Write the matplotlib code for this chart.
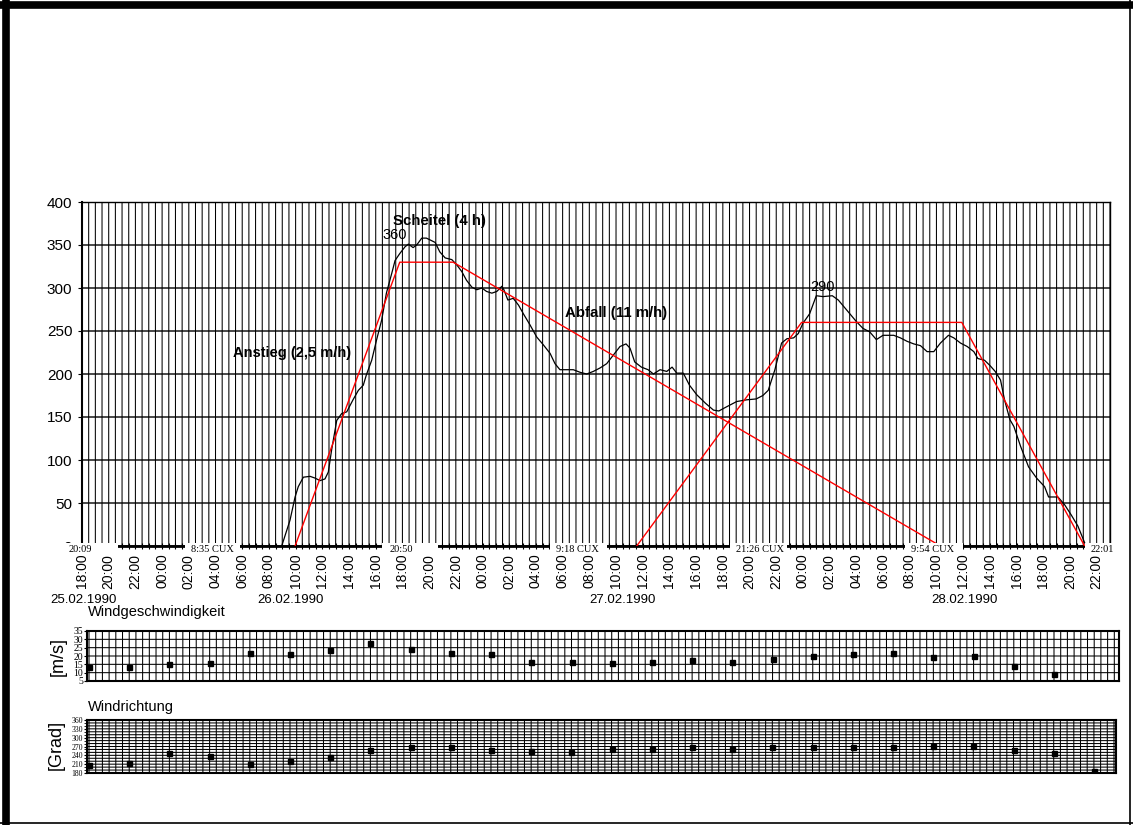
import matplotlib
matplotlib.use("Agg")
import matplotlib.pyplot as plt
from matplotlib.ticker import MultipleLocator, FuncFormatter
from matplotlib.patches import Rectangle
from matplotlib.lines import Line2D

plt.rcParams['font.family'] = ['Liberation Sans', 'DejaVu Sans']

# hours since 25.02.1990 18:00
pegel_h = [14.96, 15.58, 15.96, 16.2, 16.58, 17.08, 17.45, 17.83, 18.2, 18.45, 18.7, 19.08,
           19.45, 19.83, 20.3, 20.7, 21.07, 21.3, 21.7, 22.07, 22.45, 22.8, 23.2, 23.45,
           23.8, 24.2, 24.45, 24.8, 25.07, 25.45, 25.8, 26.2, 26.45, 26.8, 27.2, 27.7,
           28.07, 28.45, 28.8, 29.2, 29.57, 29.95, 30.3, 30.7, 31.07, 31.45, 31.6, 31.9,
           32.3, 32.7, 33.06, 33.56, 34.06, 34.55, 35.06, 35.43, 35.8, 36.3, 36.8, 37.3,
           37.8, 38.3, 38.8, 39.3, 39.8, 40.3, 40.75, 41.05, 41.4, 41.9, 42.4, 42.8,
           43.3, 43.8, 44.2, 44.55, 45.04, 45.5, 46.04, 46.7, 47.3, 47.7, 48.3, 49.04,
           49.8, 50.5, 51.0, 51.4, 51.9, 52.4, 52.8, 53.3, 53.65, 54.0, 54.5, 55.0,
           55.5, 56.2, 56.65, 57.3, 58.0, 58.5, 59.0, 59.5, 60.0, 60.8, 61.3, 61.8,
           62.3, 62.8, 63.3, 63.8, 64.3, 64.9, 65.3, 65.8, 66.3, 66.8, 67.1, 67.6,
           68.0, 68.4, 68.8, 69.1, 69.5, 69.8, 70.3, 70.9, 71.5, 72.1, 72.4, 73.1,
           73.6, 74.1, 74.6, 75.2]
pegel_cm = [0, 30, 57, 69, 80, 81, 79, 76, 78, 86, 112, 146,
            154, 156, 170, 181, 187, 199, 216, 240, 263, 294, 317, 332,
            340, 348, 351, 347, 350, 358, 358, 355, 353, 342, 335, 333,
            327, 319, 309, 301, 298, 300, 296, 294, 296, 302, 298, 286,
            288, 280, 270, 257, 243, 234, 224, 212, 205, 205, 205, 202,
            200, 203, 207, 212, 222, 232, 235, 230, 214, 208, 205, 200,
            205, 203, 208, 201, 201, 187, 176, 166, 158, 157, 162, 168,
            170, 171, 175, 181, 205, 236, 241, 242, 247, 259, 270, 291,
            290, 291, 286, 274, 261, 253, 249, 240, 245, 245, 242, 238,
            235, 233, 226, 226, 236, 245, 242, 236, 232, 226, 218, 216,
            210, 203, 193, 170, 147, 139, 116, 92, 79, 69, 57, 57,
            48, 36, 23, 0]

trend1_h = [15.96, 23.8, 27.8, 64.3]
trend1_cm = [0, 330, 330, 0]
trend2_h = [41.55, 53.9, 65.9, 75.1]
trend2_cm = [0, 260, 260, 0]

tide_text = ["20:09", "8:35 CUX", "20:50", "9:18 CUX", "21:26 CUX", "9:54 CUX", "22:01"]
tide_pos = [-0.1, 9.74, 23.9, 37.1, 50.8, 63.7, 76.4]
tide_box = [(-1.4, 2.7), (7.7, 11.85), (22.5, 26.7), (35.05, 39.3),
            (48.5, 52.8), (61.65, 65.99), (75.1, 78.1)]

dates = ["25.02.1990", "26.02.1990", "27.02.1990", "28.02.1990"]
date_px = [84, 291, 622, 964]

wind_speed_h = [0, 3, 6, 9, 12, 15, 18, 21, 24, 27, 30, 33, 36, 39, 42, 45, 48,
                51, 54, 57, 60, 63, 66, 69, 72]
wind_speed = [13.5, 13.5, 15.1, 15.9, 21.8, 21.0, 23.4, 27.7, 24.3, 21.8, 21.0, 16.6,
              16.6, 15.9, 16.6, 17.6, 16.6, 18.4, 20.2, 21.0, 21.8, 19.2, 20.2, 14.1, 9.3]
wind_dir_h = [0, 3, 6, 9, 12, 15, 18, 21, 24, 27, 30, 33, 36, 39, 42, 45, 48,
              51, 54, 57, 60, 63, 66, 69, 72, 75]
wind_dir = [206, 215, 247, 238, 210, 220, 234, 257, 267, 267, 257, 255, 253,
            262, 262, 267, 262, 267, 267, 267, 267, 271, 271, 257, 247, 187]

W, H = 1133, 825
fig = plt.figure(figsize=(W / 100, H / 100), dpi=100)


def fx(px):
    return px / W


def fy(py):
    return 1 - py / H


# main water level chart
ax = fig.add_axes([fx(82), fy(546), fx(1110) - fx(82), fy(202) - fy(546)])
ax.set_xlim(0, 77)
ax.set_ylim(0, 400)
ax.plot(pegel_h, pegel_cm, color='black', lw=0.9, zorder=3)
ax.plot(trend1_h, trend1_cm, color='red', lw=1.0, zorder=3)
ax.plot(trend2_h, trend2_cm, color='red', lw=1.0, zorder=3)

ax.xaxis.set_major_locator(MultipleLocator(2))
ax.xaxis.set_minor_locator(MultipleLocator(0.5))
ax.xaxis.set_major_formatter(FuncFormatter(lambda h, pos: f"{int(round(18 + h)) % 24:02d}:00"))
ax.yaxis.set_major_locator(MultipleLocator(50))
ax.tick_params(axis='x', which='both', direction='inout', length=5, width=0.8,
               labelsize=10, labelrotation=90, pad=3)
ax.tick_params(axis='y', direction='out', length=3, width=0.8, labelsize=11, pad=4)
ax.grid(which='both', axis='x', color='black', lw=0.75, snap=False)
ax.grid(which='major', axis='y', color='black', lw=1.0, snap=False)
for s in ax.spines.values():
    s.set_linewidth(1.0)
ax.spines['left'].set_linewidth(1.5)
ax.spines['bottom'].set_linewidth(2.0)

# white boxes with tide times over the zero line
for t, xc, (x0, x1) in zip(tide_text, tide_pos, tide_box):
    ax.add_patch(Rectangle((x0, -8.1), x1 - x0, 11.6, facecolor='white', edgecolor='none',
                           zorder=4, clip_on=False))
    ax.text(xc, -3.6, t, family='Liberation Serif', fontsize=7.5, ha='center', va='center',
            zorder=5, clip_on=False)

ax.text(26.8, 378, "Scheitel (4 h)", fontweight='bold', fontsize=10.8, ha='center', va='center')
ax.text(23.4, 361.5, "360", fontsize=10.5, ha='center', va='center')
ax.text(15.7, 224.4, "Anstieg (2,5 m/h)", fontweight='bold', fontsize=10.5, ha='center', va='center')
ax.text(40.0, 271, "Abfall (11 m/h)", fontweight='bold', fontsize=10.8, ha='center', va='center')
ax.text(55.5, 301, "290", fontsize=10.5, ha='center', va='center')

for d, px in zip(dates, date_px):
    fig.text(fx(px), fy(600), d, fontsize=9.5, ha='center', va='center')

# wind speed
axs = fig.add_axes([fx(87), fy(681), fx(1119) - fx(87), fy(631) - fy(681)])
axs.set_xlim(-0.15, 76.85)
axs.set_ylim(5, 35)
axs.plot(wind_speed_h, wind_speed, ls='none', marker='s', ms=3.6, color='black', zorder=3)
axs.xaxis.set_major_locator(MultipleLocator(0.5))
axs.set_xticklabels([])
axs.set_yticks(range(5, 36, 5))
axs.tick_params(axis='x', length=0)
axs.tick_params(axis='y', length=2, pad=1, labelsize=7)
for lab in axs.get_yticklabels():
    lab.set_family('Liberation Serif')
axs.grid(which='major', color='black', lw=0.75, snap=False)
for s in axs.spines.values():
    s.set_linewidth(1.5)
fig.text(fx(88), fy(612), "Windgeschwindigkeit", fontsize=10.5, ha='left', va='center')
fig.text(fx(58), fy(657), "[m/s]", fontsize=13, rotation=90, ha='center', va='center')

# wind direction
axd = fig.add_axes([fx(87), fy(773), fx(1116) - fx(87), fy(720) - fy(773)])
axd.set_xlim(-0.15, 76.65)
axd.set_ylim(180, 360)
axd.plot(wind_dir_h, wind_dir, ls='none', marker='s', ms=3.6, color='black', zorder=3)
axd.xaxis.set_major_locator(MultipleLocator(0.5))
axd.set_xticklabels([])
axd.set_yticks(range(180, 361, 30))
axd.yaxis.set_minor_locator(MultipleLocator(10))
axd.tick_params(axis='x', length=0)
axd.tick_params(axis='y', which='both', length=2, pad=1, labelsize=5.5)
for lab in axd.get_yticklabels():
    lab.set_family('Liberation Serif')
axd.grid(which='both', color='black', lw=0.75, snap=False)
for s in axd.spines.values():
    s.set_linewidth(1.5)
fig.text(fx(88), fy(707), "Windrichtung", fontsize=10.5, ha='left', va='center')
fig.text(fx(56), fy(745), "[Grad]", fontsize=13, rotation=90, ha='center', va='center')

# frame
fig.add_artist(Line2D([fx(6), fx(6)], [0, 1], transform=fig.transFigure, color='black', lw=5.5))
fig.add_artist(Line2D([0, 1], [fy(4.5), fy(4.5)], transform=fig.transFigure, color='black', lw=5.5))
fig.add_artist(Line2D([fx(1130), fx(1130)], [0, 1], transform=fig.transFigure, color='black', lw=1.2))
fig.add_artist(Line2D([0, 1], [fy(823), fy(823)], transform=fig.transFigure, color='black', lw=1.2))

fig.savefig("out.png", dpi=100)
